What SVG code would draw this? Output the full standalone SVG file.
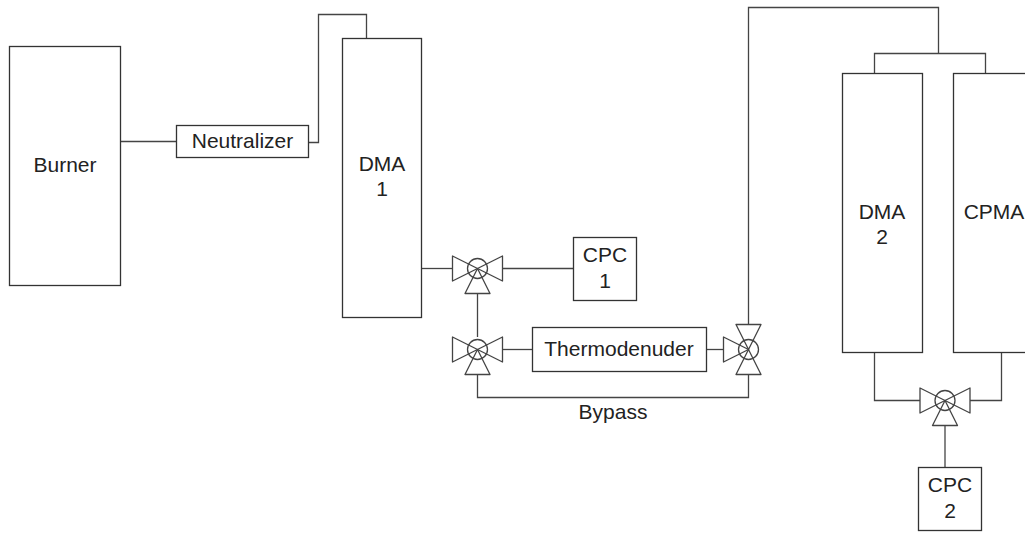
<svg xmlns="http://www.w3.org/2000/svg" width="1025" height="533" viewBox="0 0 1025 533">
<style>
.b{fill:#fff;stroke:#333;stroke-width:1.3}
.c{fill:none;stroke:#444;stroke-width:1.3}
.t{font-family:"Liberation Sans",Arial,sans-serif;font-size:21px;fill:#222;text-anchor:middle}
.v{fill:none;stroke:#444;stroke-width:1.3;stroke-linejoin:round}
</style>
<defs>
<g id="circ"><circle r="10" class="v"/></g>
<path id="tri" class="v" d="M0 0L-25 -12.5V12.5Z"/>
</defs>
<rect width="1025" height="533" fill="#fff"/>
<g id="connectors">
<path class="c" d="M120.500 141.500H176"/>
<path class="c" d="M308 142.500H318.500V14.500H366.500V38"/>
<path class="c" d="M422 268.500H452.500"/>
<path class="c" d="M502.500 268.500H573"/>
<path class="c" d="M477.500 294V337"/>
<path class="c" d="M502.500 349.500H532"/>
<path class="c" d="M707 349.500H723"/>
<path class="c" d="M477.500 374.500V397.500H748.500V374.500"/>
<path class="c" d="M748.500 324.500V7.500H938.500V53.500"/>
<path class="c" d="M874.500 73V53.500H985.500V73"/>
<path class="c" d="M874.500 352V400.500H920"/>
<path class="c" d="M970 400.500H1001.500V352"/>
<path class="c" d="M945 425V467"/>
</g>
<g id="burner"><rect class="b" x="9.500" y="46.500" width="111" height="239"/><text class="t" x="65" y="172">Burner</text></g>
<g id="neutralizer"><rect class="b" x="176.500" y="125.500" width="132" height="32"/><text class="t" x="242.500" y="148">Neutralizer</text></g>
<g id="dma1"><rect class="b" x="342.500" y="38.500" width="79" height="279"/><text class="t" x="382" y="171">DMA</text><text class="t" x="382" y="196">1</text></g>
<g id="cpc1"><rect class="b" x="573.500" y="237.500" width="63" height="63"/><text class="t" x="605" y="262">CPC</text><text class="t" x="605" y="288">1</text></g>
<g id="thermodenuder"><rect class="b" x="532.500" y="327.500" width="174" height="44"/><text class="t" x="619" y="356">Thermodenuder</text></g>
<g id="dma2"><rect class="b" x="842.500" y="73.500" width="80" height="279"/><text class="t" x="882" y="219">DMA</text><text class="t" x="882" y="244">2</text></g>
<g id="cpma"><rect class="b" x="953.500" y="73.500" width="80" height="279"/><text class="t" x="994" y="219">CPMA</text></g>
<g id="cpc2"><rect class="b" x="918.500" y="467.500" width="63" height="63"/><text class="t" x="950" y="492">CPC</text><text class="t" x="950" y="518">2</text></g>
<g id="valve1" transform="translate(477.500 268.500)"><use href="#tri"/><use href="#tri" transform="rotate(180)"/><use href="#tri" transform="rotate(-90)"/><use href="#circ"/></g>
<g id="valve2" transform="translate(477.500 349.500)"><use href="#tri"/><use href="#tri" transform="rotate(180)"/><use href="#tri" transform="rotate(-90)"/><use href="#circ"/></g>
<g id="valve3" transform="translate(748.500 349.500)"><use href="#tri"/><use href="#tri" transform="rotate(90)"/><use href="#tri" transform="rotate(-90)"/><use href="#circ"/></g>
<g id="valve4" transform="translate(945 400.500)"><use href="#tri"/><use href="#tri" transform="rotate(180)"/><use href="#tri" transform="rotate(-90)"/><use href="#circ"/></g>
<text class="t" x="613" y="419">Bypass</text>
</svg>
